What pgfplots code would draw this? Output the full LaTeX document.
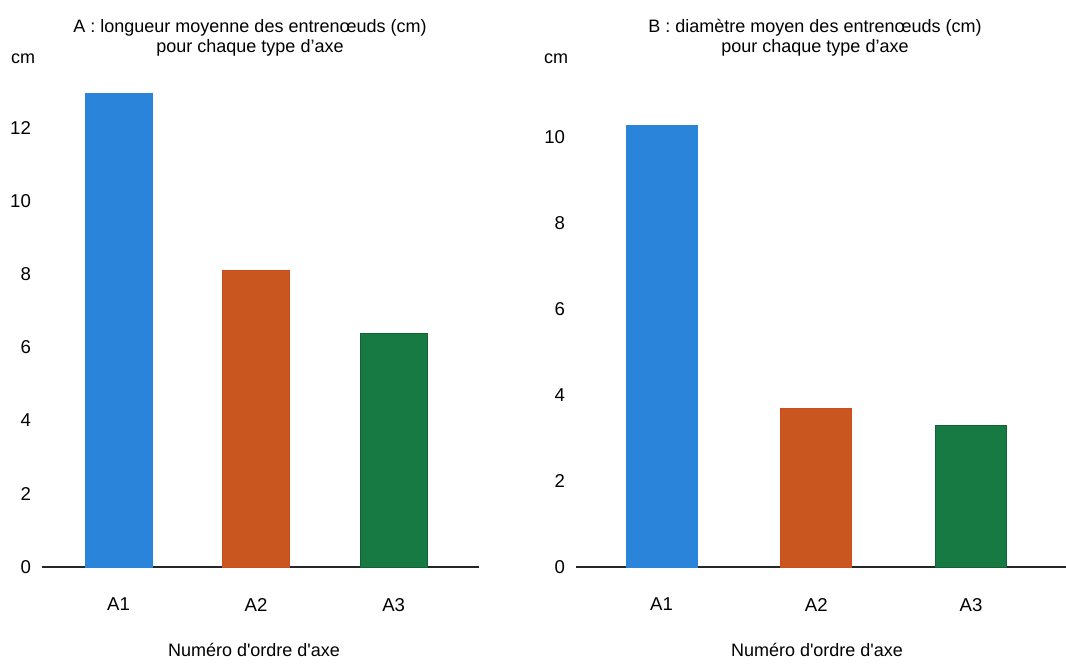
\documentclass[border=0pt]{standalone}
\usepackage{pgfplots}
\pgfplotsset{compat=1.18}
\usepackage{fontspec}
\setmainfont{Liberation Sans}
\definecolor{cblue}{RGB}{42,132,218}
\definecolor{corange}{RGB}{200,86,30}
\definecolor{cgreen}{RGB}{22,122,66}
\pgfplotsset{
  mybar/.style={
    scale only axis,
    ybar, bar width=#1,
    ymin=0,
    xtick={0,1,2}, xticklabels={A1,A2,A3},
    ytick={0,2,...,12},
    axis lines*=left,
    y axis line style={draw=none},
    x axis line style={line width=1pt, color=black!85},
    major tick length=0pt,
    tick style={draw=none},
    ticklabel style={font=\fontsize{9.3}{10}\selectfont},
    /pgf/number format/assume math mode=true,
    yticklabel style={xshift=-2pt},
    xticklabel style={yshift=-12pt},
    clip=false,
  },
}
\begin{document}
\begin{tikzpicture}
\useasboundingbox (0,0) rectangle (533pt,332pt);
\begin{axis}[mybar=33.5pt, at={(21pt,48.5pt)}, anchor=south west,
  width=218.5pt, height=247.05pt, xmin=-0.556, xmax=2.62, ymax=13.5]
\addplot[fill=cblue, draw=cblue, bar shift=0pt] coordinates {(0,12.95)};
\addplot[fill=corange, draw=corange!90!red, bar shift=0pt] coordinates {(1,8.1)};
\addplot[fill=cgreen, draw=cgreen!80!black, bar shift=0pt] coordinates {(2,6.37)};
\end{axis}
\begin{axis}[mybar=35.5pt, at={(288pt,48.5pt)}, anchor=south west,
  width=245pt, height=236.5pt, xmin=-0.553, xmax=2.614, ymax=11]
\addplot[fill=cblue, draw=cblue, bar shift=0pt] coordinates {(0,10.28)};
\addplot[fill=corange, draw=corange!90!red, bar shift=0pt] coordinates {(1,3.69)};
\addplot[fill=cgreen, draw=cgreen!80!black, bar shift=0pt] coordinates {(2,3.30)};
\end{axis}
\begin{scope}[every node/.style={font=\fontsize{9}{10}\selectfont, inner sep=0pt}]
\node[align=center] at (125pt,313pt) {A : longueur moyenne des entrenœuds (cm)\\pour chaque type d’axe};
\node[align=center] at (407.5pt,313pt) {B : diamètre moyen des entrenœuds (cm)\\pour chaque type d’axe};
\node at (11.5pt,302.5pt) {cm};
\node at (278pt,302.5pt) {cm};
\node at (127pt,7pt) {Numéro d\textquotesingle ordre d\textquotesingle axe};
\node at (408.5pt,7pt) {Numéro d\textquotesingle ordre d\textquotesingle axe};
\end{scope}
\end{tikzpicture}
\end{document}
